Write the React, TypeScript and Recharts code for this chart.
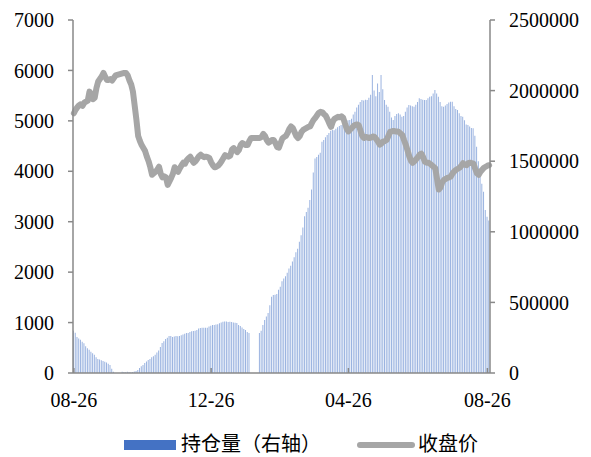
import React from "react";
import { Bar, ComposedChart, Line, XAxis, YAxis } from "recharts";

// Daily close price (left axis), one value per trading day, 08-26 → 08-26.
const closeAugNov = [
  5150, 5220, 5270, 5310, 5330, 5300, 5360, 5380, 5400, 5580, 5520, 5430, 5460, 5650, 5780, 5830, 5880, 5950, 5880, 5810,
  5810, 5830, 5800, 5850, 5900, 5910, 5920, 5930, 5940, 5950, 5950, 5900, 5800, 5720, 5580, 5300, 5020, 4700, 4600, 4520,
  4460, 4400, 4290, 4200, 4080, 3930, 3960, 3990, 4030, 4090, 3950, 3880, 3900, 3880, 3730, 3800, 3870, 3950, 4080, 4020,
];
const closeNovFeb = [
  3990, 4060, 4120, 4170, 4150, 4220, 4260, 4290, 4220, 4170, 4200, 4250, 4300, 4330, 4300, 4280, 4290, 4280, 4260, 4180,
  4120, 4080, 4090, 4110, 4150, 4200, 4260, 4320, 4300, 4290, 4310, 4430, 4460, 4420, 4380, 4420, 4520, 4560, 4540, 4520,
  4520, 4600, 4660, 4660, 4660, 4660, 4660, 4660, 4680, 4740, 4700, 4620, 4570, 4590, 4620, 4620, 4560, 4480, 4470, 4560,
];
const closeFebMay = [
  4650, 4680, 4700, 4760, 4840, 4890, 4860, 4780, 4700, 4660, 4700, 4780, 4820, 4840, 4860, 4880, 4890, 4960, 5020, 5060,
  5110, 5160, 5180, 5170, 5130, 5100, 5030, 4950, 4880, 4980, 5040, 5060, 5080, 5070, 5090, 5060, 4950, 4850, 4790, 4830,
  4860, 4900, 4920, 4930, 4910, 4800, 4700, 4660, 4680, 4670, 4660, 4670, 4690, 4680, 4640, 4590, 4530, 4550, 4590, 4600,
];
const closeMayAug = [
  4620, 4700, 4780, 4790, 4800, 4790, 4790, 4780, 4750, 4720, 4620, 4530, 4420, 4300, 4210, 4170, 4200, 4240, 4280, 4330,
  4350, 4280, 4190, 4170, 4170, 4150, 4120, 4090, 4060, 3850, 3640, 3680, 3780, 3830, 3850, 3870, 3880, 3900, 3960, 4000,
  4030, 4050, 4070, 4110, 4160, 4130, 4120, 4160, 4170, 4160, 4150, 4050, 3960, 3930, 3990, 4030, 4070, 4090, 4110, 4120,
];

// Open interest (right axis). null = no trading record that day.
const oiAugNov = [
  300000, 285000, 255000, 245000, 235000, 222000, 210000, 190000, 175000, 165000, 150000, 140000, 130000, 112000, 100000, 95000, 90000, 85000, 80000, 75000,
  65000, 57000, 30000, 8000, null, null, null, null, 8000, 7000, 6000, 8000, 7000, 6000, 7000, 10000, 15000, 21000, 35000, 48000,
  57000, 70000, 82000, 92000, 100000, 112000, 118000, 130000, 145000, 160000, 185000, 212000, 225000, 240000, 250000, 262000, 262000, 255000, 258000, 262000,
];
const oiNovFeb = [
  260000, 262000, 268000, 272000, 278000, 283000, 283000, 290000, 295000, 297000, 300000, 305000, 315000, 319000, 320000, 320000, 320000, 321000, 330000, 335000,
  340000, 340000, 343000, 345000, 352000, 358000, 363000, 365000, 364000, 362000, 363000, 362000, 358000, 356000, 354000, 340000, 333000, 322000, 312000, 305000,
  290000, 283000, null, null, null, null, null, 283000, 300000, 340000, 375000, 400000, 425000, 480000, 540000, 552000, 555000, 560000, 590000, 611000,
];
const oiFebMay = [
  650000, 670000, 685000, 710000, 740000, 760000, 790000, 820000, 855000, 880000, 930000, 975000, 1030000, 1110000, 1140000, 1170000, 1225000, 1300000, 1420000, 1520000,
  1530000, 1545000, 1560000, 1638000, 1650000, 1670000, 1686000, 1700000, 1715000, 1721000, 1720000, 1730000, 1740000, 1750000, 1757000, 1760000, 1770000, 1780000, 1790000, 1792000,
  1800000, 1830000, 1850000, 1880000, 1900000, 1920000, 1933000, 1930000, 1935000, 1933000, 1950000, 1970000, 2110000, 2000000, 1960000, 2050000, 1990000, 2110000, 2010000, 1933000,
];
const oiMayAug = [
  1900000, 1886000, 1850000, 1810000, 1792000, 1820000, 1835000, 1840000, 1830000, 1815000, 1820000, 1850000, 1880000, 1898000, 1895000, 1890000, 1886000, 1900000, 1920000, 1945000,
  1940000, 1935000, 1933000, 1933000, 1945000, 1957000, 1960000, 1980000, 2004000, 1980000, 1957000, 1920000, 1890000, 1886000, 1895000, 1905000, 1915000, 1921000, 1921000, 1890000,
  1870000, 1862000, 1840000, 1820000, 1815000, 1790000, 1760000, 1757000, 1745000, 1735000, 1733000, 1680000, 1603000, 1500000, 1416000, 1340000, 1284000, 1154000, 1107000, 1080000,
];

// x tick labels and the trading-day index each one sits on
const xTickLabels = ["08-26", "12-26", "04-26", "08-26"];
const xTickAt = [0, 79, 158, 238];

const leftTicks = [0, 1000, 2000, 3000, 4000, 5000, 6000, 7000];
const rightTicks = [0, 500000, 1000000, 1500000, 2000000, 2500000];

const close = [...closeAugNov, ...closeNovFeb, ...closeFebMay, ...closeMayAug];
const openInterest = [...oiAugNov, ...oiNovFeb, ...oiFebMay, ...oiMayAug];
const data = close.map((c, i) => ({ idx: i, close: c, oi: openInterest[i] }));

const AXIS = "#898989";
const SERIF = "'Liberation Serif', 'Times New Roman', serif";
const CJK = "'Noto Sans CJK SC', sans-serif";
const X_LABEL_GAP = 20;

function XTick(props: any) {
  const { x, y, payload } = props;
  const label = xTickLabels[xTickAt.indexOf(payload.value)] ?? "";
  const axisY = y - X_LABEL_GAP;
  return (
    <g>
      <line x1={x} x2={x} y1={axisY} y2={axisY - 5} stroke={AXIS} strokeWidth={1.5} />
      <text x={x} y={y} dy="0.71em" textAnchor="middle" fontSize={20} fontFamily={SERIF} fill="#000">
        {label}
      </text>
    </g>
  );
}

const legendText: React.CSSProperties = {
  position: "absolute",
  top: 3,
  height: 29,
  fontSize: 20,
  lineHeight: "29px",
  fontFamily: CJK,
  color: "#000",
  whiteSpace: "nowrap",
};

export default function App() {
  return (
    <div style={{ position: "absolute", left: 0, top: 0, width: 591, height: 457, background: "#fff" }}>
      <ComposedChart
        width={591}
        height={425}
        data={data}
        margin={{ top: 20, right: 0, bottom: 22, left: 0 }}
        barCategoryGap={0}
      >
        <XAxis
          dataKey="idx"
          ticks={xTickAt}
          interval={0}
          height={30}
          tickSize={0}
          tickLine={false}
          tickMargin={X_LABEL_GAP}
          tick={<XTick />}
          axisLine={{ stroke: AXIS, strokeWidth: 1.5 }}
        />
        <YAxis
          yAxisId="left"
          orientation="left"
          width={73}
          domain={[0, 7000]}
          ticks={leftTicks}
          interval={0}
          tickSize={5}
          tickMargin={14}
          tickLine={{ stroke: AXIS, strokeWidth: 1.5 }}
          axisLine={{ stroke: AXIS, strokeWidth: 1.5 }}
          tick={{ fill: "#000", fontSize: 20, fontFamily: SERIF }}
        />
        <YAxis
          yAxisId="right"
          orientation="right"
          width={101}
          domain={[0, 2500000]}
          ticks={rightTicks}
          interval={0}
          tickSize={5}
          tickMargin={14}
          tickLine={{ stroke: AXIS, strokeWidth: 1.5 }}
          axisLine={{ stroke: AXIS, strokeWidth: 1.5 }}
          tick={{ fill: "#000", fontSize: 20, fontFamily: SERIF, textAnchor: "start" }}
        />
        <Bar yAxisId="right" dataKey="oi" fill="#9ab3e0" barSize={1} isAnimationActive={false} />
        <Line
          yAxisId="left"
          dataKey="close"
          type="linear"
          stroke="#a6a6a6"
          strokeWidth={6}
          strokeLinejoin="round"
          strokeLinecap="round"
          dot={false}
          activeDot={false}
          isAnimationActive={false}
        />
      </ComposedChart>
      {/* legend, below the chart */}
      <div style={{ position: "relative", width: 591, height: 32 }}>
        <div style={{ position: "absolute", left: 124, top: 15, width: 52, height: 10, background: "#4472C4" }} />
        <div style={{ ...legendText, left: 181, width: 150 }}>持仓量（右轴）</div>
        <div
          style={{ position: "absolute", left: 357, top: 17, width: 58, height: 6, borderRadius: 3, background: "#a6a6a6" }}
        />
        <div style={{ ...legendText, left: 418, width: 70 }}>收盘价</div>
      </div>
    </div>
  );
}
